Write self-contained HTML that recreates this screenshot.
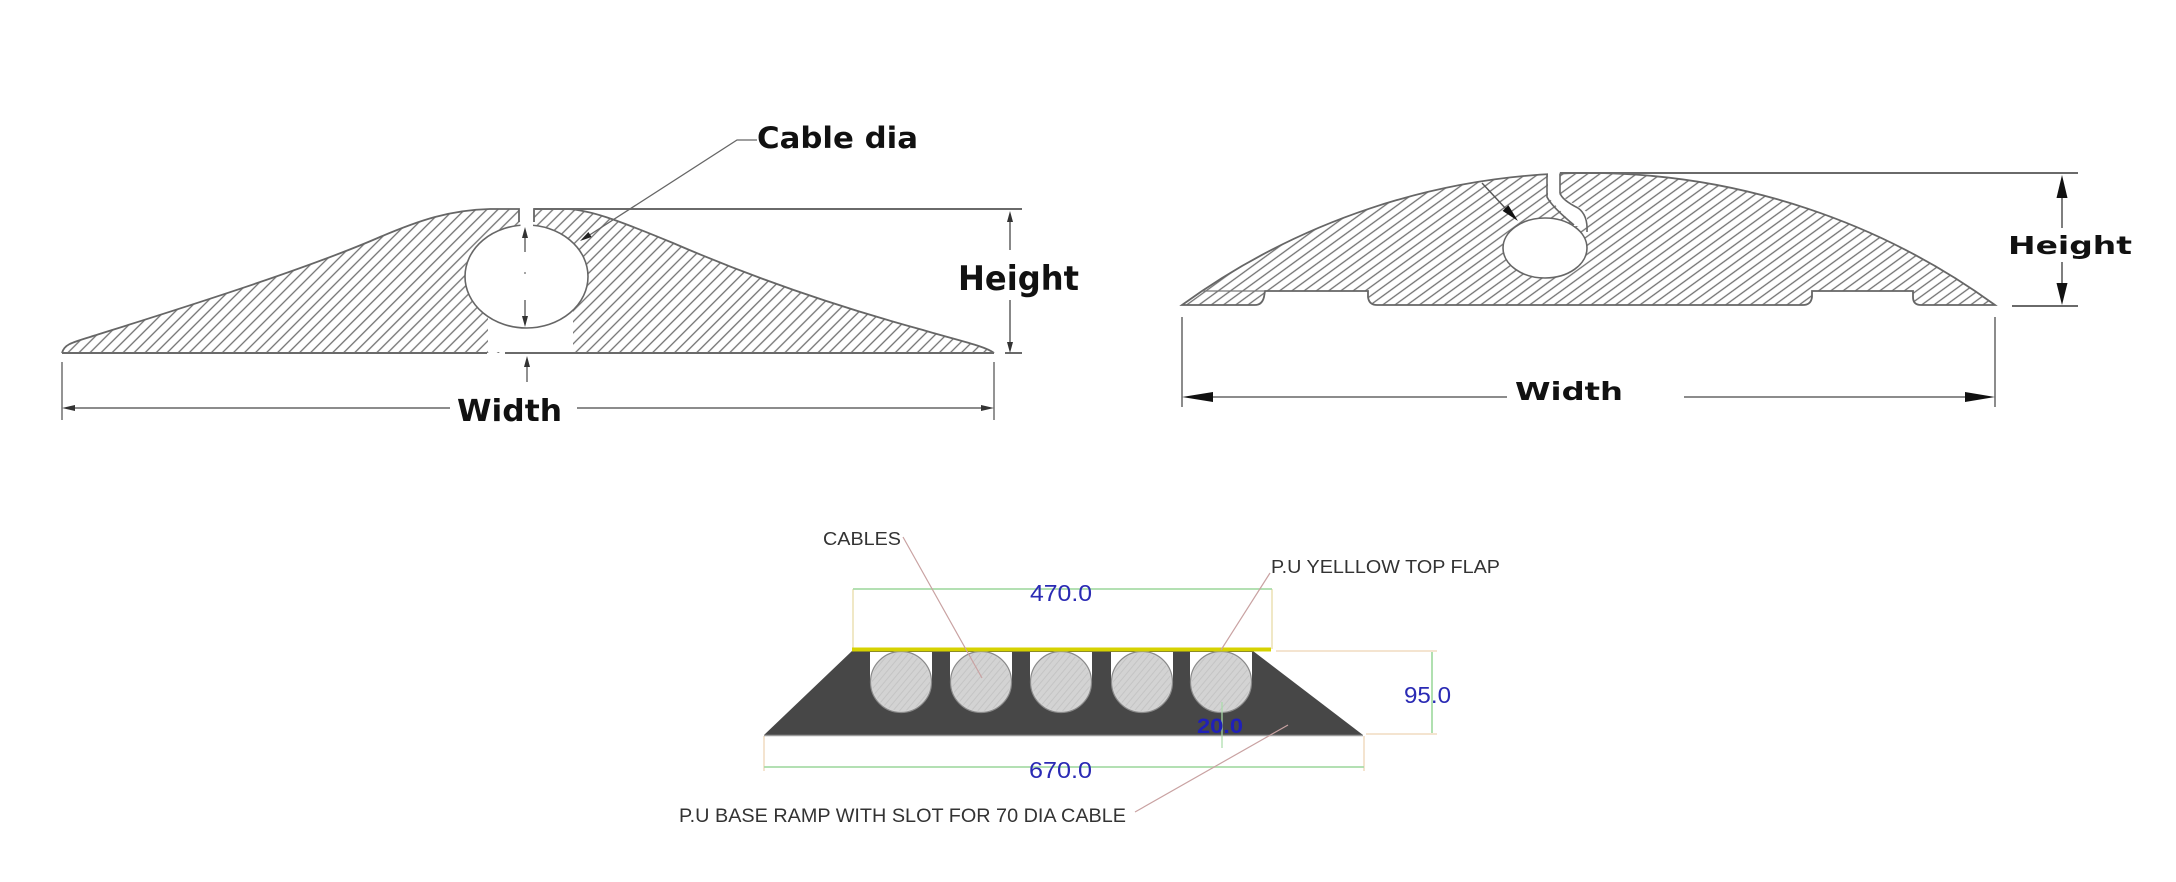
<!DOCTYPE html>
<html><head><meta charset="utf-8"><style>
html,body{margin:0;padding:0;background:#fff;}
svg{display:block;}
</style></head><body>
<svg width="2176" height="882" viewBox="0 0 2176 882" xmlns="http://www.w3.org/2000/svg">
<defs>
<pattern id="hL" patternUnits="userSpaceOnUse" width="7.8" height="20" patternTransform="rotate(45)">
<line x1="1" y1="-5" x2="1" y2="25" stroke="#707070" stroke-width="1.3"/>
</pattern>
<pattern id="hR" patternUnits="userSpaceOnUse" width="7.2" height="20" patternTransform="rotate(54)">
<line x1="1" y1="-5" x2="1" y2="25" stroke="#707070" stroke-width="1.3"/>
</pattern>
<pattern id="hC" patternUnits="userSpaceOnUse" width="5" height="20" patternTransform="rotate(40)">
<line x1="1" y1="-5" x2="1" y2="25" stroke="#c4c4c4" stroke-width="1"/>
</pattern>
</defs>
<rect width="2176" height="882" fill="#fff"/>

<!-- ===== LEFT DIAGRAM ===== -->
<path d="M62,353 C64,345 70,343 90,337 C150,318 300,272 380,237 C420,220 450,210 490,209 L519,209 L519,222 L534,222 L534,209 L567,209 C590,210 615,219 673,243 C740,272 820,302 923,330 C960,341 985,346 994,353 Z" fill="url(#hL)"/>
<rect x="488" y="295" width="85" height="57" fill="#fff"/>
<ellipse cx="526.5" cy="276.5" rx="61.5" ry="51.5" fill="#fff" stroke="#666" stroke-width="1.6"/>
<rect x="520.5" y="204" width="12.5" height="24" fill="#fff"/>
<path d="M62,353 C64,345 70,343 90,337 C150,318 300,272 380,237 C420,220 450,210 490,209 L519,209 L519,222 M534,222 L534,209 L567,209 C590,210 615,219 673,243 C740,272 820,302 923,330 C960,341 985,346 994,353" fill="none" stroke="#666" stroke-width="1.8"/>
<path d="M62,353 L487,353 M505,353 L994,353 M1005,353 L1022,353 M534,209 L1022,209" fill="none" stroke="#6a6a6a" stroke-width="2"/>
<!-- height dim -->
<path d="M1010,220 L1010,250 M1010,300 L1010,344" stroke="#555" stroke-width="1.4"/>
<polygon points="1010,211 1007,222 1013,222" fill="#333"/>
<polygon points="1010,353 1007,342 1013,342" fill="#333"/>
<!-- width dim -->
<path d="M62,362 L62,420 M994,362 L994,420 M70,408 L450,408 M577,408 L986,408" stroke="#666" stroke-width="1.4"/>
<polygon points="62,408 75,405 75,411" fill="#333"/>
<polygon points="994,408 981,405 981,411" fill="#333"/>
<!-- inner circle dims -->
<path d="M525,236 L525,252 M525,300 L525,318" stroke="#555" stroke-width="1.3"/>
<circle cx="525" cy="273" r="1" fill="#888"/>
<polygon points="525,227 522,238 528,238" fill="#333"/>
<polygon points="525,327 522,316 528,316" fill="#333"/>
<path d="M527,365 L527,382" stroke="#555" stroke-width="1.3"/>
<polygon points="527,356 524,367 530,367" fill="#333"/>
<!-- cable dia leader -->
<path d="M757,140 L737,140 L588,236" fill="none" stroke="#666" stroke-width="1.3"/>
<polygon points="580,241 591.6,237 588.4,232" fill="#222"/>
<text x="757" y="148" font-family="'DejaVu Sans',sans-serif" font-weight="bold" font-size="29" textLength="161" lengthAdjust="spacingAndGlyphs" fill="#111">Cable dia</text>
<text x="958" y="290" font-family="'DejaVu Sans',sans-serif" font-weight="bold" font-size="34" textLength="121" lengthAdjust="spacingAndGlyphs" fill="#111">Height</text>
<text x="457" y="421" font-family="'DejaVu Sans',sans-serif" font-weight="bold" font-size="30" textLength="105" lengthAdjust="spacingAndGlyphs" fill="#111">Width</text>

<!-- ===== RIGHT DIAGRAM ===== -->
<path d="M1182,305 A692,692 0 0 1 1995,305 L1921,305 Q1913,305 1913,297 L1913,291 L1812,291 L1812,297 Q1811,305 1803,305 L1377,305 Q1369,305 1368,297 L1368,291 L1265,291 L1264,297 Q1262,305 1255,305 Z" fill="url(#hR)" stroke="#666" stroke-width="1.8"/>
<path d="M1203,291 L1265,291" stroke="#777" stroke-width="1.3"/>
<ellipse cx="1545" cy="248" rx="42" ry="30" fill="#fff" stroke="#666" stroke-width="1.6"/>
<polygon points="1548,168 1548,197 1574,226 1587,226 1587,212 1559.5,195 1559.5,168" fill="#fff"/>
<path d="M1547,174 L1547,197 Q1552,207 1574,225 M1560,174 L1560,193 Q1562,200 1578,208 Q1588,215 1587,232" fill="none" stroke="#666" stroke-width="1.6"/>
<path d="M1560,173 L2078,173 M2012,306 L2078,306" stroke="#6a6a6a" stroke-width="2"/>
<!-- height -->
<path d="M2062,197 L2062,228 M2062,262 L2062,284" stroke="#555" stroke-width="1.5"/>
<polygon points="2062,175 2056.5,198 2067.5,198" fill="#111"/>
<polygon points="2062,305 2056.5,283 2067.5,283" fill="#111"/>
<!-- width -->
<path d="M1182,317 L1182,407 M1995,317 L1995,407 M1212,397 L1507,397 M1684,397 L1966,397" stroke="#666" stroke-width="1.5"/>
<polygon points="1182,397 1213,392 1213,402" fill="#111"/>
<polygon points="1995,397 1965,392 1965,402" fill="#111"/>
<!-- leader -->
<path d="M1482,183 L1506,209" stroke="#555" stroke-width="1.4"/>
<polygon points="1518,221 1502.6,210.9 1508.4,205.3" fill="#111"/>
<text x="2008" y="254" font-family="'DejaVu Sans',sans-serif" font-weight="bold" font-size="25" textLength="124" lengthAdjust="spacingAndGlyphs" fill="#111">Height</text>
<text x="1515" y="400" font-family="'DejaVu Sans',sans-serif" font-weight="bold" font-size="25" textLength="108" lengthAdjust="spacingAndGlyphs" fill="#111">Width</text>

<!-- ===== BOTTOM DIAGRAM ===== -->
<path d="M853,589 L853,649 M1272,589 L1272,649" stroke="#ece0b4" stroke-width="1.5"/>
<path d="M1276,651 L1437,651 M1366,734 L1437,734 M764,736 L764,771 M1364,736 L1364,771" stroke="#f0dcc0" stroke-width="1.5"/>
<path d="M853,589 L1272,589" stroke="#a8dca8" stroke-width="1.8"/>
<path d="M1432,652 L1432,733" stroke="#a8dca8" stroke-width="1.8"/>
<path d="M764,767 L1364,767" stroke="#a8dca8" stroke-width="1.8"/>
<polygon points="852,651 1253,651 1363,735 764,735" fill="#474747"/>
<path d="M764,735.5 L1363,735.5" stroke="#9a9a9a" stroke-width="1.5"/>
<g stroke="none" fill="#fff">
<rect x="870" y="652" width="62" height="32"/>
<rect x="950" y="652" width="62" height="32"/>
<rect x="1030" y="652" width="62" height="32"/>
<rect x="1111" y="652" width="62" height="32"/>
<rect x="1190" y="652" width="62" height="32"/>
</g>
<g stroke="#8a8a8a" stroke-width="1.2">
<circle cx="901" cy="682" r="30.5" fill="#d3d3d3"/>
<circle cx="981" cy="682" r="30.5" fill="#d3d3d3"/>
<circle cx="1061" cy="682" r="30.5" fill="#d3d3d3"/>
<circle cx="1142" cy="682" r="30.5" fill="#d3d3d3"/>
<circle cx="1221" cy="682" r="30.5" fill="#d3d3d3"/>
</g>
<g fill="url(#hC)">
<circle cx="901" cy="682" r="29"/>
<circle cx="981" cy="682" r="29"/>
<circle cx="1061" cy="682" r="29"/>
<circle cx="1142" cy="682" r="29"/>
<circle cx="1221" cy="682" r="29"/>
</g>
<path d="M852,649.5 L1271,649.5" stroke="#d6d200" stroke-width="4"/>
<path d="M1222,702 L1222,748" stroke="#a8dca8" stroke-width="1.2"/>
<path d="M903,537 L982,678 M1270,573 L1221,650 M1135,812 L1288,725" stroke="#c9a2a2" stroke-width="1.2" fill="none"/>
<text x="823" y="545" font-family="'Liberation Sans',sans-serif" font-size="18" textLength="78" lengthAdjust="spacingAndGlyphs" fill="#333">CABLES</text>
<text x="1271" y="573" font-family="'Liberation Sans',sans-serif" font-size="18" textLength="229" lengthAdjust="spacingAndGlyphs" fill="#333">P.U YELLLOW TOP FLAP</text>
<text x="679" y="822" font-family="'Liberation Sans',sans-serif" font-size="19" textLength="447" lengthAdjust="spacingAndGlyphs" fill="#333">P.U BASE RAMP WITH SLOT FOR 70 DIA CABLE</text>
<text x="1030" y="601" font-family="'Liberation Sans',sans-serif" font-size="23" textLength="62" lengthAdjust="spacingAndGlyphs" fill="#2a2ab4">470.0</text>
<text x="1404" y="703" font-family="'Liberation Sans',sans-serif" font-size="23" textLength="47" lengthAdjust="spacingAndGlyphs" fill="#2a2ab4">95.0</text>
<text x="1029" y="778" font-family="'Liberation Sans',sans-serif" font-size="23" textLength="63" lengthAdjust="spacingAndGlyphs" fill="#2a2ab4">670.0</text>
<text x="1197" y="733" font-family="'Liberation Sans',sans-serif" font-weight="bold" font-size="21" textLength="46" lengthAdjust="spacingAndGlyphs" fill="#2020b8">20.0</text>
</svg>
</body></html>
